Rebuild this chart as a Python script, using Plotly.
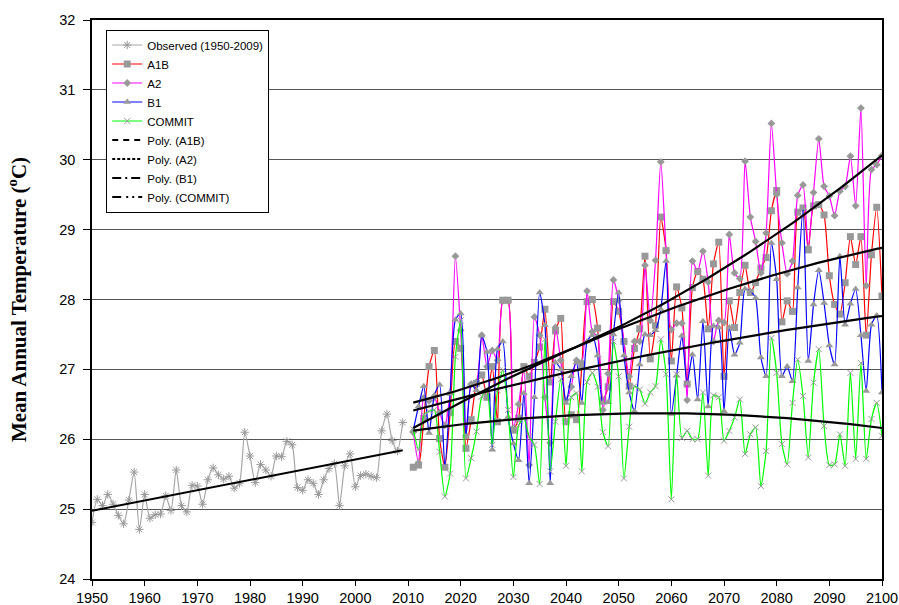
import numpy as np
import plotly.graph_objects as go

# observed record 1950-2009
obs_years = list(range(1950, 2010))
observed = [24.81, 25.14, 25.05, 25.21, 25.07, 24.91, 24.79, 25.13, 25.53, 24.71,
            25.21, 24.87, 24.92, 24.93, 25.19, 24.98, 25.56, 25.05, 24.96, 25.34,
            25.33, 25.07, 25.42, 25.59, 25.49, 25.43, 25.47, 25.30, 25.37, 26.10,
            25.76, 25.38, 25.64, 25.56, 25.47, 25.76, 25.75, 25.97, 25.92, 25.31,
            25.27, 25.42, 25.37, 25.21, 25.42, 25.58, 25.65, 25.05, 25.62, 25.79,
            25.32, 25.48, 25.50, 25.47, 25.45, 26.12, 26.36, 25.98, 25.83, 26.24]

# scenario projections 2011-2100
years = list(range(2011, 2101))
a1b = [25.60, 25.63, 26.30, 27.04, 27.27, 26.01, 25.60, 26.38, 27.40, 27.30,
       25.87, 26.28, 26.80, 26.92, 26.60, 27.04, 26.25, 27.99, 27.99, 26.13,
       26.30, 27.04, 26.90, 27.10, 27.32, 27.86, 26.82, 27.55, 27.73, 26.25,
       26.35, 26.28, 27.04, 27.97, 28.00, 27.59, 26.56, 26.75, 27.97, 27.83,
       27.40, 26.76, 27.30, 27.58, 28.62, 27.15, 27.63, 29.18, 28.70, 27.12,
       28.18, 27.88, 26.79, 28.17, 28.40, 28.29, 27.58, 28.51, 28.82, 26.90,
       27.98, 27.60, 28.10, 28.49, 28.10, 28.24, 28.45, 28.60, 29.27, 29.56,
       27.68, 27.98, 27.83, 29.25, 29.31, 28.71, 29.34, 29.36, 29.21, 28.34,
       27.93, 27.79, 28.24, 28.90, 28.50, 28.90, 27.49, 28.64, 29.32, 28.05]
a2 = [26.10, 25.66, 26.59, 26.55, 26.60, 26.38, 26.20, 26.66, 28.62, 27.56,
      26.05, 26.79, 26.82, 27.49, 27.04, 27.27, 27.13, 27.98, 27.98, 26.16,
      26.50, 27.00, 25.63, 27.75, 27.49, 26.60, 25.95, 27.60, 27.13, 26.56,
      26.75, 27.13, 27.10, 28.12, 27.54, 27.47, 26.42, 26.94, 28.28, 27.99,
      27.40, 26.90, 27.40, 27.40, 28.49, 27.70, 28.56, 29.97, 28.70, 27.57,
      27.66, 27.66, 26.56, 28.55, 28.40, 28.69, 28.25, 27.40, 27.70, 27.67,
      28.93, 28.38, 28.30, 29.98, 29.18, 28.83, 28.38, 28.95, 30.52, 29.50,
      28.81, 28.37, 28.55, 29.49, 29.64, 28.74, 29.53, 30.30, 29.62, 29.48,
      29.20, 29.55, 29.62, 30.05, 29.34, 30.74, 28.20, 29.86, 29.93, 30.06]
b1 = [26.13, 26.47, 26.76, 26.09, 26.63, 26.78, 25.60, 26.65, 27.71, 27.80,
      26.04, 26.79, 26.70, 27.48, 27.25, 25.85, 27.29, 27.40, 26.32, 25.94,
      25.70, 26.66, 25.37, 26.60, 28.10, 27.63, 25.37, 27.10, 27.00, 26.52,
      26.90, 27.10, 26.52, 27.40, 27.49, 27.20, 26.52, 26.53, 27.50, 28.10,
      27.20, 26.67, 26.40, 27.07, 27.50, 27.49, 27.56, 27.86, 28.55, 26.36,
      26.91, 27.48, 26.80, 27.21, 26.57, 27.69, 26.47, 27.62, 27.60, 26.40,
      27.60, 27.21, 27.38, 28.15, 28.12, 28.02, 27.17, 26.90, 28.81, 28.29,
      26.90, 27.04, 26.83, 28.17, 29.31, 27.12, 27.93, 28.42, 27.95, 27.34,
      27.07, 28.62, 27.64, 27.94, 28.15, 27.49, 26.69, 27.64, 27.77, 26.67]
commit = [26.14, 25.85, 26.35, 26.40, 26.42, 25.82, 25.18, 25.51, 27.18, 27.70,
          25.44, 25.73, 26.11, 26.61, 26.70, 25.92, 26.70, 26.99, 26.42, 25.46,
          26.20, 26.30, 26.04, 25.92, 25.36, 27.43, 25.54, 26.25, 26.86, 25.62,
          26.60, 26.66, 25.54, 26.82, 26.95, 26.75, 26.10, 25.90, 27.40, 26.90,
          25.44, 26.18, 26.76, 26.71, 26.51, 26.67, 26.76, 27.43, 26.93, 25.14,
          26.93, 26.02, 26.12, 26.00, 26.00, 26.67, 25.48, 26.63, 26.60, 25.98,
          26.12, 26.31, 26.57, 25.79, 26.07, 26.17, 25.33, 25.83, 27.45, 26.95,
          25.93, 25.64, 26.52, 27.14, 26.62, 25.74, 26.81, 27.29, 26.19, 25.63,
          25.64, 26.07, 25.62, 26.95, 25.72, 27.09, 25.72, 26.29, 26.52, 26.05]

marker_grey = "#999999"
font_sans = "Liberation Sans, Arial, sans-serif"

fig = go.Figure()

fig.add_trace(go.Scatter(
    x=obs_years, y=observed, mode="lines+markers", name="Observed (1950-2009)",
    line=dict(color="#a6a6a6", width=1.2, shape="spline", smoothing=0.6),
    marker=dict(symbol="asterisk-open", size=7, color=marker_grey, line=dict(color=marker_grey, width=1)),
))

scenarios = [
    ("A1B", a1b, "#ff0000", "square", 7, "6px,5px"),
    ("A2", a2, "#ff00ff", "diamond", 6, "3px,2px"),
    ("B1", b1, "#0000ff", "triangle-up", 7, "9px,4px,2px,4px"),
    ("COMMIT", commit, "#00ff00", "x-thin-open", 6, "9px,5px,2px,4px,2px,4px"),
]

for name, vals, col, sym, size, dash in scenarios:
    mk = dict(symbol=sym, size=size, color=marker_grey)
    if sym == "x-thin-open":
        mk["line"] = dict(color=marker_grey, width=1)
    fig.add_trace(go.Scatter(
        x=years, y=vals, mode="lines+markers", name=name,
        line=dict(color=col, width=1.2, shape="spline", smoothing=0.6),
        marker=mk,
    ))

# trend lines: linear for observed, 2nd order poly for scenarios
c = np.polyfit(obs_years, observed, 1)
fig.add_trace(go.Scatter(x=obs_years, y=np.polyval(c, obs_years), mode="lines",
                         line=dict(color="black", width=2), showlegend=False, hoverinfo="skip"))
for name, vals, col, sym, size, dash in scenarios:
    c = np.polyfit(years, vals, 2)
    fig.add_trace(go.Scatter(x=years, y=np.polyval(c, years), mode="lines",
                             line=dict(color="black", width=2.2), showlegend=False, hoverinfo="skip"))

# legend entries for the poly fits
for name, vals, col, sym, size, dash in scenarios:
    fig.add_trace(go.Scatter(x=[None], y=[None], mode="lines", name=f"Poly. ({name})",
                             line=dict(color="black", width=2, dash=dash)))

fig.update_layout(
    width=899, height=605,
    margin=dict(l=92, r=17, t=20, b=26),
    paper_bgcolor="white", plot_bgcolor="white",
    showlegend=True,
    legend=dict(
        x=0.018, y=0.983, xanchor="left", yanchor="top",
        bgcolor="white", bordercolor="black", borderwidth=1,
        font=dict(family=font_sans, size=11.5, color="black"),
        itemwidth=30, tracegroupgap=0,
    ),
    font=dict(family=font_sans, size=14, color="black"),
)

fig.update_xaxes(
    range=[1950, 2100], tick0=1950, dtick=10, showgrid=False, zeroline=False,
    showline=True, linecolor="black", linewidth=1.5, mirror=True, automargin=False,
    ticks="outside", ticklen=5, tickcolor="black",
    tickfont=dict(family=font_sans, size=14.5),
)
fig.update_yaxes(
    range=[24, 32], dtick=1, showgrid=True, gridcolor="#555555", gridwidth=1, zeroline=False,
    showline=True, linecolor="black", linewidth=1.5, mirror=True, automargin=False,
    ticks="outside", ticklen=7, tickcolor="black", ticklabelstandoff=5,
    tickfont=dict(family=font_sans, size=14.5),
    title=dict(text="<b>Mean Annual Temperature (<sup>o</sup>C)</b>",
               font=dict(family="Liberation Serif, Times New Roman, serif", size=21), standoff=27),
)

# drop the page's default body margin so the figure fills the window exactly
fig.write_html("out.html", config={"displayModeBar": False},
               post_script="document.body.style.margin='0';")
